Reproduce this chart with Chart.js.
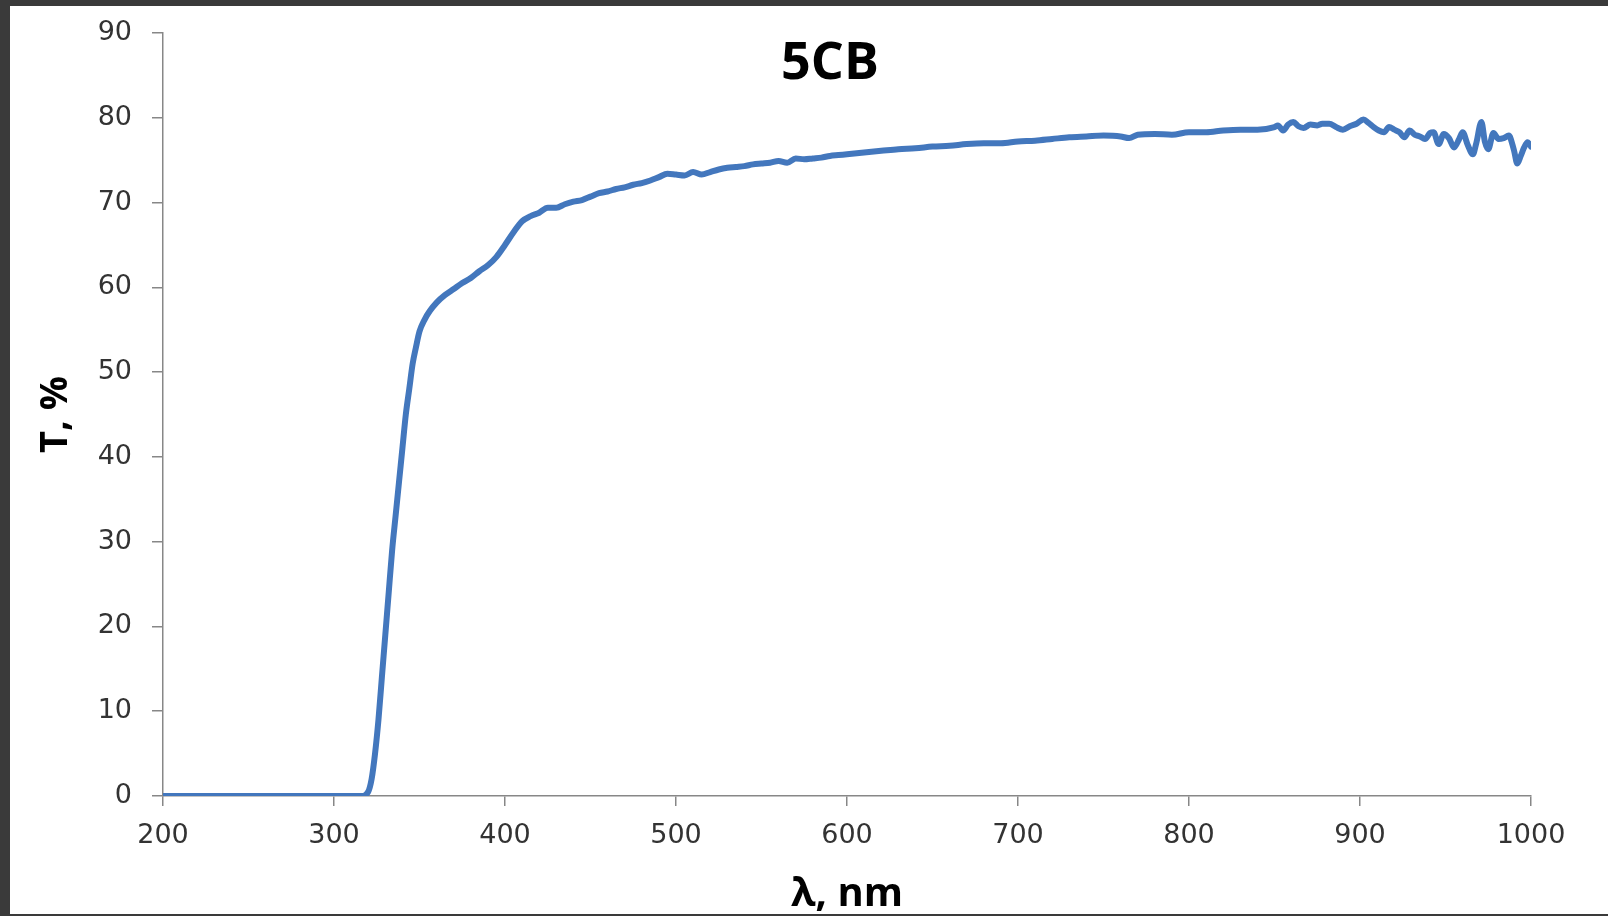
<!DOCTYPE html>
<html lang="en">
<head>
  <meta charset="UTF-8" />
  <title>5CB transmission</title>
  <script src="https://cdn.jsdelivr.net/npm/chart.js"></script>
  <style>
    html, body {
      margin: 0;
      padding: 0;
      background: #3a3a3a;
      width: 1608px;
      height: 916px;
      overflow: hidden;
    }
    .sheet {
      position: absolute;
      left: 10px;
      top: 6px;
      width: 1598px;
      height: 908px;
      background: #fff;
      overflow: hidden;
    }
    canvas { display: block; }
  </style>
</head>
<body>
<div class="sheet">
  <canvas id="spectrum" width="1598" height="930"></canvas>
</div>

<script>
  const chartTitle = "5CB";
  const xTitle = "λ, nm";
  const yTitle = "T, %";

  // wavelength, nm
  const wavelength = [
    200, 250, 300, 316, 320, 322, 324, 326, 328, 330, 332, 334, 336, 338, 340,
    342, 344, 346, 348, 350, 353, 356, 360, 365, 370, 375, 380, 385, 390, 395,
    400, 405, 410, 415, 420, 425, 430, 435, 440, 445, 450, 455, 460, 465, 470,
    475, 480, 485, 490, 495, 500, 505, 510, 515, 520, 525, 530, 535, 540, 545,
    550, 555, 560, 565, 570, 575, 580, 585, 590, 595, 600, 610, 620, 630, 640,
    650, 660, 670, 680, 690, 700, 710, 720, 730, 740, 750, 760, 765, 770, 780,
    790, 800, 810, 820, 830, 840, 850, 852, 855, 858, 861, 864, 867, 871, 875,
    878, 882, 886, 890, 894, 898, 902, 905, 908, 911, 914, 917, 920, 923, 926,
    929, 932, 935, 938, 941, 943, 946, 949, 952, 955, 958, 960, 963, 966, 968,
    971, 973, 975, 978, 981, 984, 987, 990, 992, 994, 996, 998, 1000, 1001
  ];

  // transmittance, %
  const transmittance = [
    0, 0, 0, 0, 0.5, 2, 5, 9, 14, 19, 24, 29, 33, 37, 41,
    45, 48, 51, 53, 54.8, 56.2, 57.2, 58.2, 59.1, 59.8, 60.5, 61.1, 61.9, 62.6, 63.6,
    65.0, 66.5, 67.8, 68.4, 68.8, 69.4, 69.4, 69.8, 70.1, 70.3, 70.7, 71.1, 71.3, 71.6, 71.8,
    72.1, 72.3, 72.6, 73.0, 73.4, 73.3, 73.2, 73.6, 73.3, 73.6, 73.9, 74.1, 74.2, 74.3, 74.5,
    74.6, 74.7, 74.9, 74.7, 75.2, 75.1, 75.2, 75.3, 75.5, 75.6, 75.7, 75.9, 76.1, 76.3, 76.4,
    76.6, 76.7, 76.9, 77.0, 77.0, 77.2, 77.3, 77.5, 77.7, 77.8, 77.9, 77.8, 77.6, 78.0, 78.1,
    78.0, 78.3, 78.3, 78.5, 78.6, 78.6, 78.9, 79.1, 78.5, 79.2, 79.5, 79.0, 78.8, 79.2, 79.1,
    79.3, 79.3, 78.9, 78.6, 79.0, 79.3, 79.8, 79.4, 78.9, 78.5, 78.3, 78.9, 78.6, 78.3, 77.7,
    78.5, 78.0, 77.8, 77.5, 78.2, 78.3, 76.9, 78.1, 77.6, 76.5, 77.5, 78.3, 76.8, 75.7, 77.0,
    79.5, 77.2, 76.3, 78.2, 77.5, 77.6, 77.9, 76.2, 74.6, 75.5, 76.5, 77.1, 76.6, 76.3
  ];

  const points = wavelength.map((w, i) => ({ x: w, y: transmittance[i] }));

  const axisGray = "#878787";
  const tickFont = { family: "DejaVu Sans", size: 27 };
  const boldTitleFont = { family: "Open Sans", weight: "bold" };

  // "5CB" sits inside the plot area, so it is drawn here rather than by the title plugin
  const insideTitle = {
    id: "insideTitle",
    afterDraw(chart) {
      const ctx = chart.ctx;
      ctx.save();
      ctx.font = "bold 52px 'Open Sans'";
      ctx.fillStyle = "#000";
      ctx.textAlign = "center";
      ctx.textBaseline = "middle";
      ctx.fillText(chartTitle, 820, 58);
      ctx.restore();
    }
  };

  new Chart(document.getElementById("spectrum"), {
    type: "line",
    data: {
      datasets: [{
        data: points,
        borderColor: "#4377bd",
        borderWidth: 6,
        pointRadius: 0,
        fill: false,
        tension: 0.3,
        cubicInterpolationMode: "monotone",
        borderCapStyle: "round",
        borderJoinStyle: "round"
      }]
    },
    options: {
      responsive: false,
      animation: false,
      layout: { padding: { left: 0, top: 27, right: 77, bottom: 0 } },
      plugins: {
        legend: { display: false },
        tooltip: { enabled: false }
      },
      scales: {
        x: {
          type: "linear",
          min: 200,
          max: 1000,
          afterFit(scale) { scale.height = 140; },
          ticks: { stepSize: 100, padding: 14, color: "#333", font: tickFont, maxRotation: 0,
                   callback: v => String(v) },
          grid: { drawOnChartArea: false, drawTicks: true, tickLength: 10, color: axisGray, lineWidth: 1.5 },
          border: { color: axisGray, width: 1.5 },
          title: { display: true, text: xTitle, color: "#000",
                   font: { ...boldTitleFont, size: 40 }, padding: { top: 0, bottom: 17 } }
        },
        y: {
          min: 0,
          max: 90,
          afterFit(scale) {
            scale.width = 153;
            // keep the plot top fixed by layout padding, not by label padding
            scale.paddingTop = 0;
            scale.paddingBottom = 0;
          },
          ticks: { stepSize: 10, padding: 20, color: "#333", font: tickFont },
          grid: { drawOnChartArea: false, drawTicks: true, tickLength: 11, color: axisGray, lineWidth: 1.5 },
          border: { color: axisGray, width: 1.5 },
          title: { display: true, text: yTitle, color: "#000",
                   font: { ...boldTitleFont, size: 38 }, padding: { top: 23, bottom: 0 } }
        }
      }
    },
    plugins: [insideTitle]
  });
</script>
</body>
</html>
